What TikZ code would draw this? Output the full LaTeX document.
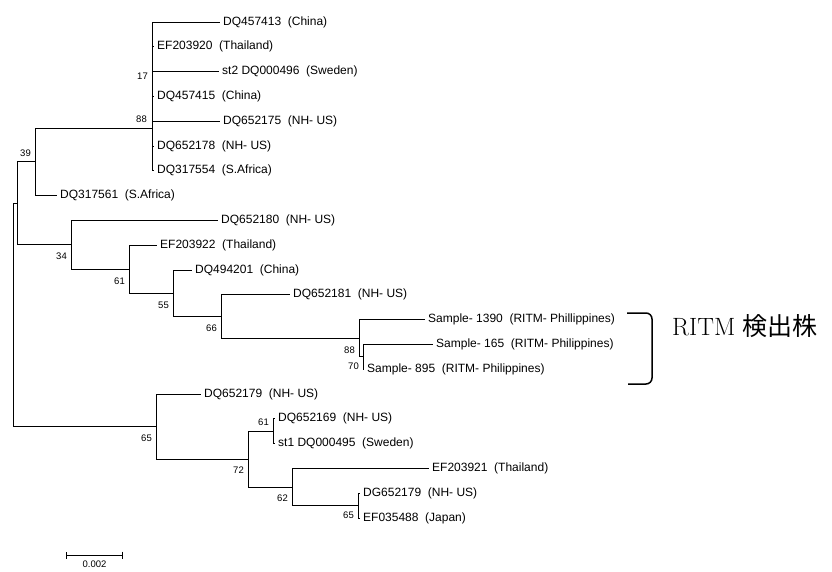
\documentclass[tikz,border=0pt]{standalone}
\usepackage{fontspec}
\setsansfont{Liberation Sans}
\newfontfamily\jpfont{Noto Sans CJK JP}
\usetikzlibrary{arrows.meta,positioning}

\begin{document}
\begin{tikzpicture}[
  x=1pt,y=-1pt,
  branch/.style={draw=black,line width=0.8pt},
  leaf/.style={anchor=west,inner xsep=3pt,inner ysep=1pt,font=\sffamily\fontsize{12}{12}\selectfont},
  boot/.style={inner sep=1pt,font=\sffamily\fontsize{9.5}{9.5}\selectfont},
  brace/.style={line width=1.5pt,rounded corners=6pt}
]
\useasboundingbox (0,0) rectangle (832,572);
% inner nodes of the tree
\coordinate (root) at (13,315);
\coordinate (nA) at (17,203.3);
\coordinate (n39) at (35,161.8);
\coordinate (n88) at (152,128);
\coordinate (n17) at (152,71.6);
\coordinate (n34) at (71,244.8);
\coordinate (n61) at (129,269.2);
\coordinate (n55) at (173,293.3);
\coordinate (n66) at (221,316.5);
\coordinate (n88b) at (359,338.2);
\coordinate (n70) at (363,356.8);
\coordinate (n65) at (156,426.6);
\coordinate (n72) at (248,459.1);
\coordinate (n61b) at (273,431.2);
\coordinate (n62) at (292,487);
\coordinate (n65b) at (358,505.6);
% leaves
\node[leaf] (dq457413) at (220,22) {DQ457413\ \ (China)};
\node[leaf] (ef203920) at (154,46.8) {EF203920\ \ (Thailand)};
\node[leaf] (dq000496) at (219,71.6) {st2 DQ000496\ \ (Sweden)};
\node[leaf] (dq457415) at (154,96.4) {DQ457415\ \ (China)};
\node[leaf] (dq652175) at (220,121.2) {DQ652175\ \ (NH- US)};
\node[leaf] (dq652178) at (154,146) {DQ652178\ \ (NH- US)};
\node[leaf] (dq317554) at (154,170.8) {DQ317554\ \ (S.Africa)};
\node[leaf] (dq317561) at (57,195.6) {DQ317561\ \ (S.Africa)};
\node[leaf] (dq652180) at (218,220.4) {DQ652180\ \ (NH- US)};
\node[leaf] (ef203922) at (157,245.2) {EF203922\ \ (Thailand)};
\node[leaf] (dq494201) at (192,270) {DQ494201\ \ (China)};
\node[leaf] (dq652181) at (290,294.8) {DQ652181\ \ (NH- US)};
\node[leaf] (s1390) at (425,319.6) {Sample- 1390\ \ (RITM- Phillippines)};
\node[leaf] (s165) at (433,344.4) {Sample- 165\ \ (RITM- Philippines)};
\node[leaf] (s895) at (364,369.2) {Sample- 895\ \ (RITM- Philippines)};
\node[leaf] (dq652179) at (201,394) {DQ652179\ \ (NH- US)};
\node[leaf] (dq652169) at (275,418.8) {DQ652169\ \ (NH- US)};
\node[leaf] (dq000495) at (275,443.6) {st1 DQ000495\ \ (Sweden)};
\node[leaf] (ef203921) at (429,468.4) {EF203921\ \ (Thailand)};
\node[leaf] (dg652179) at (360,493.2) {DG652179\ \ (NH- US)};
\node[leaf] (ef035488) at (360,518) {EF035488\ \ (Japan)};
% branches
\draw[branch] (root) |- (nA);
\draw[branch] (root) |- (n65);
\draw[branch] (nA) |- (n39);
\draw[branch] (nA) |- (n34);
\draw[branch] (n39) |- (n88);
\draw[branch] (n39) |- (dq317561.west);
\draw[branch] (n88) |- (dq457413.west);
\draw[branch] (n88) |- (ef203920.west);
\draw[branch] (n88) |- (dq000496.west);
\draw[branch] (n88) |- (dq457415.west);
\draw[branch] (n88) |- (dq652175.west);
\draw[branch] (n88) |- (dq652178.west);
\draw[branch] (n88) |- (dq317554.west);
\draw[branch] (n34) |- (dq652180.west);
\draw[branch] (n34) |- (n61);
\draw[branch] (n61) |- (ef203922.west);
\draw[branch] (n61) |- (n55);
\draw[branch] (n55) |- (dq494201.west);
\draw[branch] (n55) |- (n66);
\draw[branch] (n66) |- (dq652181.west);
\draw[branch] (n66) |- (n88b);
\draw[branch] (n88b) |- (s1390.west);
\draw[branch] (n88b) |- (n70);
\draw[branch] (n70) |- (s165.west);
\draw[branch] (n70) |- (s895.west);
\draw[branch] (n65) |- (dq652179.west);
\draw[branch] (n65) |- (n72);
\draw[branch] (n72) |- (n61b);
\draw[branch] (n72) |- (n62);
\draw[branch] (n61b) |- (dq652169.west);
\draw[branch] (n61b) |- (dq000495.west);
\draw[branch] (n62) |- (ef203921.west);
\draw[branch] (n62) |- (n65b);
\draw[branch] (n65b) |- (dg652179.west);
\draw[branch] (n65b) |- (ef035488.west);
% bootstrap values
\node[boot,below left=0pt and 3pt of n17] (b17) {17};
\node[boot,above left=4pt and 4pt of n88] (b88) {88};
\node[boot,above left=4pt and 3pt of n39] (b39) {39};
\node[boot,below left=7pt and 3pt of n34] (b34) {34};
\node[boot,below left=7pt and 3pt of n61] (b61) {61};
\node[boot,below left=7pt and 3pt of n55] (b55) {55};
\node[boot,below left=7pt and 3pt of n66] (b66) {66};
\node[boot,below left=7pt and 3pt of n88b] (b88b) {88};
\node[boot,below left=5pt and 3pt of n70] (b70) {70};
\node[boot,below left=7pt and 3pt of n65] (b65) {65};
\node[boot,above left=4pt and 3pt of n61b] (b61b) {61};
\node[boot,below left=7pt and 3pt of n72] (b72) {72};
\node[boot,below left=7pt and 3pt of n62] (b62) {62};
\node[boot,below left=5pt and 3pt of n65b] (b65b) {65};
% scale bar
\coordinate (barl) at (66,555);
\coordinate (barr) at (123,555);
\draw[branch,{Bar[width=7pt]}-{Bar[width=7pt]}] (barl) -- (barr);
\node[boot,anchor=north] (scale) at (94.5,560) {0.002};
% bracket and its label
\coordinate (brtop) at (627,313);
\coordinate (brbot) at (628,384);
\draw[brace] (brtop) -- (652,313) -- (652,384) -- (brbot);
\node[anchor=base west,inner sep=0pt,font=\fontsize{25}{25}\selectfont] (ritm) at (672,335) {RITM {\jpfont 検出株}};
\end{tikzpicture}
\end{document}
